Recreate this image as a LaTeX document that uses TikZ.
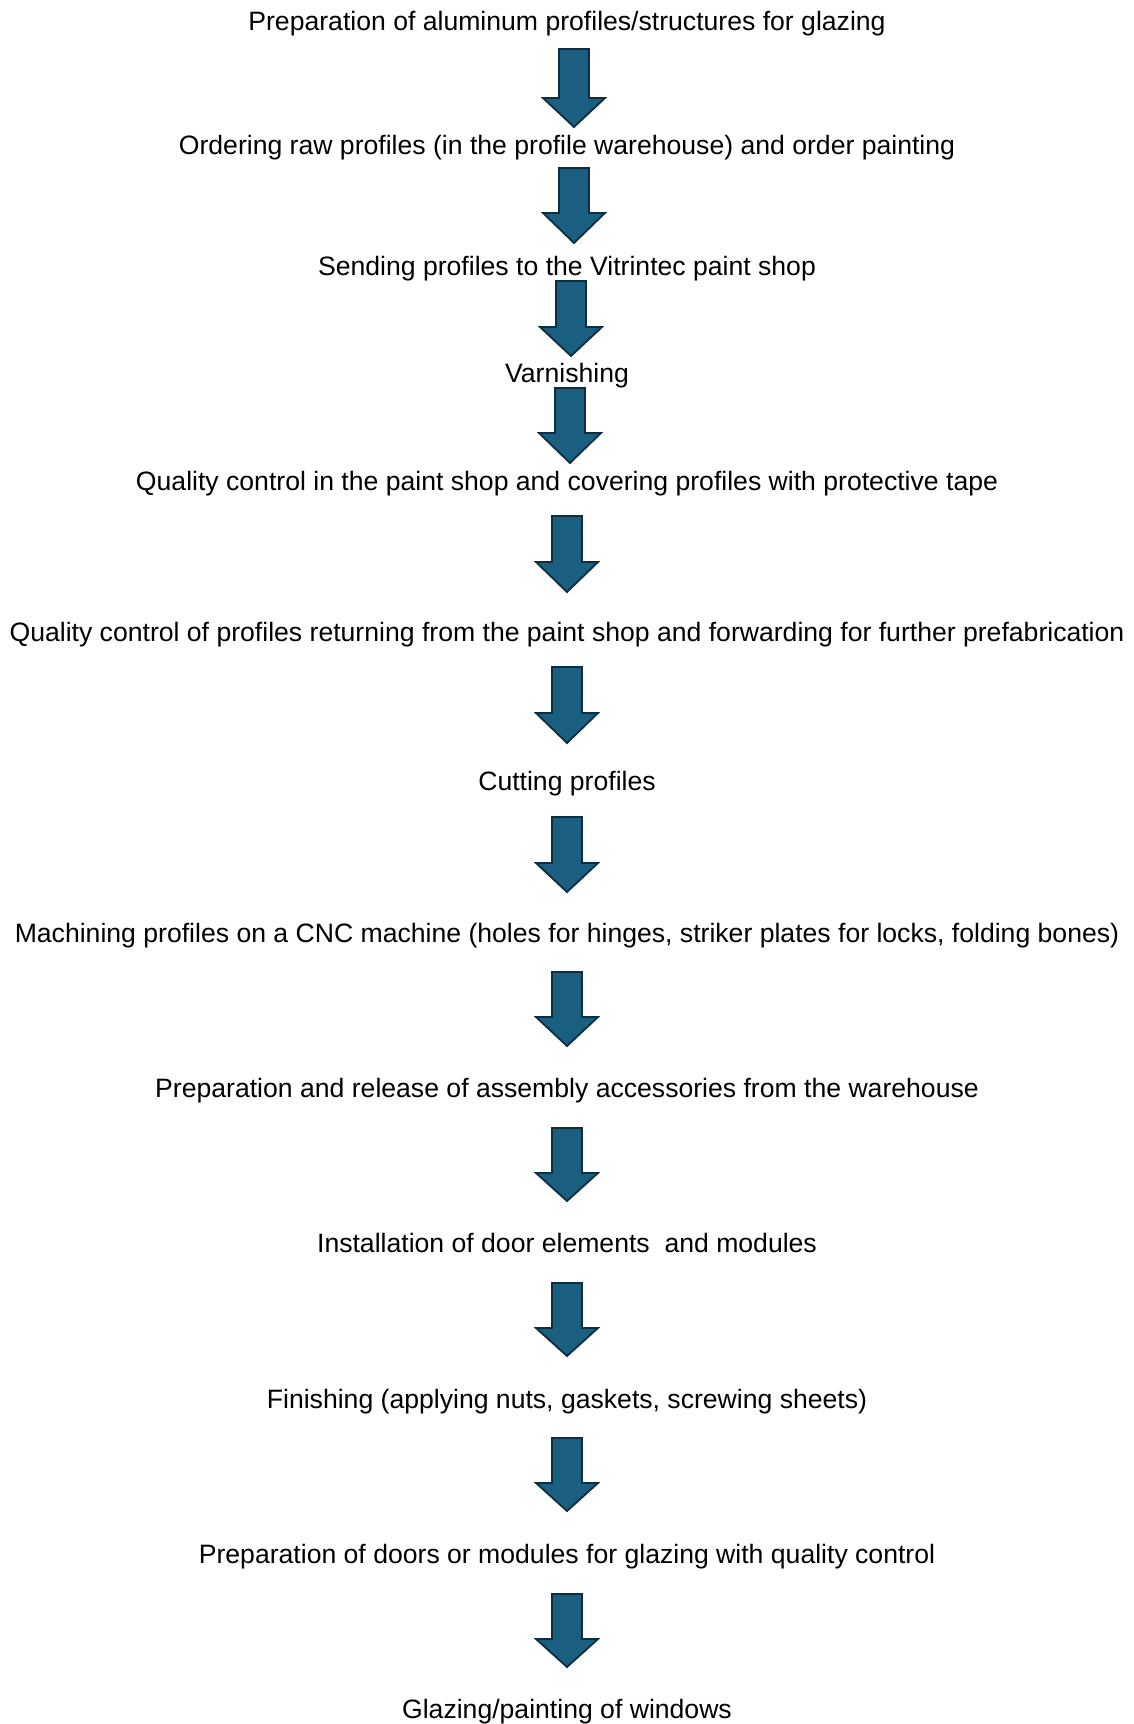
\documentclass[tikz,border=0pt]{standalone}
\usepackage{fontspec}
\setmainfont{Liberation Sans}
\definecolor{arrowfill}{RGB}{26,94,128}
\definecolor{arrowline}{RGB}{14,46,64}
\newcommand{\blockarr}[5]{% name, cx, top, shoulder, tip
  \coordinate (#1top) at (#2,#3);
  \coordinate (#1tip) at (#2,#5);
  \draw[arrowstyle] (#2-15,#3) -- (#2+15,#3) -- (#2+15,#4) -- (#2+31,#4) -- (#1tip) -- (#2-31,#4) -- (#2-15,#4) -- cycle;
}
\begin{document}
\begin{tikzpicture}[x=1pt,y=-1pt,
  steptext/.style={anchor=base,inner sep=0pt,font=\fontsize{26.6}{30}\selectfont,text=black},
  arrowstyle/.style={fill=arrowfill,draw=arrowline,line width=1.8pt,line join=miter}]
\useasboundingbox[fill=white] (0,0) rectangle (1134,1724);
\node[steptext] (t1) at (567,30) {Preparation of aluminum profiles/structures for glazing};
\node[steptext] (t2) at (567,154) {Ordering raw profiles (in the profile warehouse) and order painting};
\node[steptext] (t3) at (567,275) {Sending profiles to the Vitrintec paint shop};
\node[steptext] (t4) at (567,382) {Varnishing};
\node[steptext] (t5) at (567,490) {Quality control in the paint shop and covering profiles with protective tape};
\node[steptext] (t6) at (567,641) {Quality control of profiles returning from the paint shop and forwarding for further prefabrication};
\node[steptext] (t7) at (567,790) {Cutting profiles};
\node[steptext] (t8) at (567,942) {Machining profiles on a CNC machine (holes for hinges, striker plates for locks, folding bones)};
\node[steptext] (t9) at (567,1097) {Preparation and release of assembly accessories from the warehouse};
\node[steptext] (t10) at (567,1252) {Installation of door elements\ \ and modules};
\node[steptext] (t11) at (567,1408) {Finishing (applying nuts, gaskets, screwing sheets)};
\node[steptext] (t12) at (567,1563) {Preparation of doors or modules for glazing with quality control};
\node[steptext] (t13) at (567,1718) {Glazing/painting of windows};
\blockarr{a1}{574}{49}{98}{127}
\blockarr{a2}{574}{168}{213}{243}
\blockarr{a3}{571}{281}{327}{356}
\blockarr{a4}{570}{388}{433}{463}
\blockarr{a5}{567}{516}{562}{592}
\blockarr{a6}{567}{667}{713}{743}
\blockarr{a7}{567}{817}{863}{892}
\blockarr{a8}{567}{972}{1017}{1046}
\blockarr{a9}{567}{1128}{1173}{1201}
\blockarr{a10}{567}{1283}{1328}{1356}
\blockarr{a11}{567}{1438}{1483}{1511}
\blockarr{a12}{567}{1594}{1639}{1667}
\end{tikzpicture}
\end{document}
